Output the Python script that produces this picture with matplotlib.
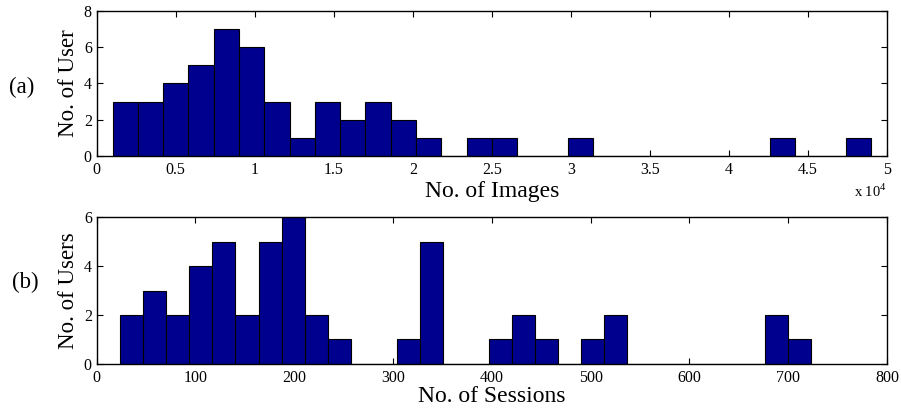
import numpy as np
import matplotlib
matplotlib.use("Agg")
import matplotlib.pyplot as plt

# histogram counts per user, 30 equal bins each
images_range = (1000, 49000)
images_counts = [3, 3, 4, 5, 7, 6, 3, 1, 3, 2, 3, 2, 1, 0, 1,
                 1, 0, 0, 1, 0, 0, 0, 0, 0, 0, 0, 1, 0, 0, 1]
sessions_range = (24, 723)
sessions_counts = [2, 3, 2, 4, 5, 2, 5, 6, 2, 1, 0, 0, 1, 5, 0,
                   0, 1, 2, 1, 0, 1, 2, 0, 0, 0, 0, 0, 0, 2, 1]

images_ticks = np.arange(0, 50001, 5000)
images_ticklabels = ["0", "0.5", "1", "1.5", "2", "2.5", "3", "3.5", "4", "4.5", "5"]
sessions_ticks = np.arange(0, 801, 100)

plt.rcParams["font.family"] = "Liberation Serif"
plt.rcParams["mathtext.fontset"] = "custom"
plt.rcParams["mathtext.rm"] = "Liberation Serif"

bar_color = "#00008F"

W, H = 901, 408
fig = plt.figure(figsize=(W / 100, H / 100), dpi=100)


def px_axes(left, top, right, bottom):
    return fig.add_axes([left / W, 1 - bottom / H, (right - left) / W, (bottom - top) / H])


def draw_hist(ax, counts, rng):
    edges = np.linspace(rng[0], rng[1], len(counts) + 1)
    ax.bar(edges[:-1], counts, width=np.diff(edges), align="edge",
           color=bar_color, edgecolor="black", linewidth=0.8, zorder=2)


def style(ax):
    for s in ax.spines.values():
        s.set_linewidth(1.0)
        s.set_zorder(3)
    ax.tick_params(direction="in", length=4, width=0.8, top=True, right=True,
                   labelsize=11.5)
    ax.tick_params(axis="x", pad=4.5)
    ax.tick_params(axis="y", pad=3.5)


ax1 = px_axes(96.7, 10.7, 887, 156)
draw_hist(ax1, images_counts, images_range)
ax1.set_xlim(0, 50000)
ax1.set_ylim(0, 8)
ax1.set_xticks(images_ticks)
ax1.set_xticklabels(images_ticklabels)
ax1.set_yticks([0, 2, 4, 6, 8])
style(ax1)
ax1.set_xlabel("No. of Images", fontsize=17)
ax1.xaxis.set_label_coords(0.5, (156 - 197) / 145.3)
ax1.xaxis.label.set_va("baseline")
ax1.set_ylabel("No. of User", fontsize=16.5)
ax1.yaxis.set_label_coords((69 - 96.7) / 790.3, 0.5)
ax1.yaxis.label.set_va("center")

ax2 = px_axes(96.7, 217.3, 887, 363.7)
draw_hist(ax2, sessions_counts, sessions_range)
ax2.set_xlim(0, 800)
ax2.set_ylim(0, 6)
ax2.set_xticks(sessions_ticks)
ax2.set_yticks([0, 2, 4, 6])
style(ax2)
ax2.set_xlabel("No. of Sessions", fontsize=17)
ax2.xaxis.set_label_coords(0.5, (363.7 - 402) / 146.4)
ax2.xaxis.label.set_va("baseline")
ax2.set_ylabel("No. of Users", fontsize=16.5)
ax2.yaxis.set_label_coords((69 - 96.7) / 790.3, 0.5)
ax2.yaxis.label.set_va("center")

# panel tags and exponent for the top axis
fig.text(22 / W, 1 - 87 / H, "(a)", fontsize=16.5, ha="center", va="center")
fig.text(25 / W, 1 - 282 / H, "(b)", fontsize=16.5, ha="center", va="center")
fig.text(854 / W, 1 - 197 / H, r"x 10$^{\mathregular{4}}$", fontsize=10.5,
         ha="left", va="baseline")

fig.savefig("out.png", dpi=100)
